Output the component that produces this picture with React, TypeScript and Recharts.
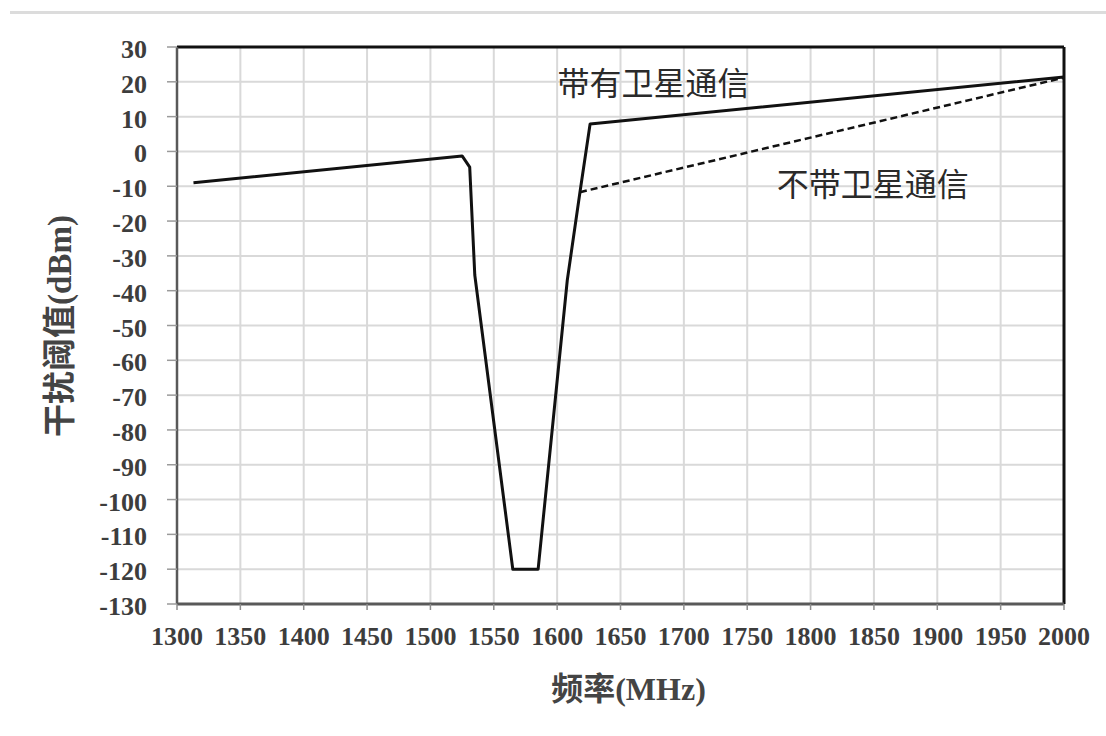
import {
  LineChart,
  Line,
  XAxis,
  YAxis,
  CartesianGrid,
  ReferenceLine,
  ReferenceDot,
  Label,
} from "recharts";

// 带有卫星通信 (solid)
const satFreq = [1313, 1525, 1531, 1535, 1565, 1585, 1608, 1618, 1626, 2000];
const satValue = [-9, -1.3, -4.5, -35.5, -120, -120, -37, -11.7, 7.9, 21.4];

// 不带卫星通信 (dashed)
const noSatFreq = [1618, 2000];
const noSatValue = [-11.7, 21.2];

const xTicks = [1300, 1350, 1400, 1450, 1500, 1550, 1600, 1650, 1700, 1750, 1800, 1850, 1900, 1950, 2000];
const yTicks = [30, 20, 10, 0, -10, -20, -30, -40, -50, -60, -70, -80, -90, -100, -110, -120, -130];

const satData = satFreq.map((f, i) => ({ f, v: satValue[i] }));
const noSatData = noSatFreq.map((f, i) => ({ f, v: noSatValue[i] }));

const TICK_FONT = "'Liberation Serif', 'Times New Roman', serif";
const CJK_FONT = "'Noto Sans CJK SC', sans-serif";
const TICK_COLOR = "#3d3d3d";

function XTick({ x, y, payload }: any) {
  return (
    <text
      x={x}
      y={y + 33}
      textAnchor="middle"
      fontFamily={TICK_FONT}
      fontWeight="bold"
      fontSize={26}
      fill={TICK_COLOR}
    >
      {payload.value}
    </text>
  );
}

function YTick({ x, y, payload }: any) {
  return (
    <text
      x={x - 18}
      y={y + 11}
      textAnchor="end"
      fontFamily={TICK_FONT}
      fontWeight="bold"
      fontSize={26}
      fill={TICK_COLOR}
    >
      {payload.value}
    </text>
  );
}

function SeriesLabel({ viewBox, text }: any) {
  if (!viewBox) return null;
  const cx = viewBox.cx ?? viewBox.x;
  const cy = viewBox.cy ?? viewBox.y;
  return (
    <text
      x={cx}
      y={cy}
      textAnchor="middle"
      dominantBaseline="central"
      fontFamily={CJK_FONT}
      fontSize={32}
      fill="#2a2a2a"
    >
      {text}
    </text>
  );
}

function XTitle({ viewBox }: any) {
  const cx = viewBox.x + viewBox.width / 2 + 8;
  return (
    <text x={cx} y={700} textAnchor="middle" fontSize={32} fill="#444" fontWeight="bold">
      <tspan fontFamily={CJK_FONT}>频率</tspan>
      <tspan fontFamily={TICK_FONT}>(MHz)</tspan>
    </text>
  );
}

function YTitle() {
  const cx = 71;
  const cy = 326;
  return (
    <text
      x={cx}
      y={cy}
      transform={`rotate(-90, ${cx}, ${cy})`}
      textAnchor="middle"
      fontSize={33}
      fill="#444"
      fontWeight="bold"
    >
      <tspan fontFamily={CJK_FONT}>干扰阈值</tspan>
      <tspan fontFamily={TICK_FONT}>(dBm)</tspan>
    </text>
  );
}

export default function App() {
  return (
    <div style={{ position: "fixed", left: 0, top: 0, width: 1106, height: 736, background: "#fff" }}>
      <div
        style={{
          position: "absolute",
          left: 10,
          right: 0,
          top: 11,
          height: 3,
          background: "#dcdcdc",
        }}
      />
      <LineChart
        width={1106}
        height={736}
        margin={{ top: 47, right: 42, left: 0, bottom: 92 }}
      >
        <CartesianGrid stroke="#d9d9d9" strokeWidth={2} />
        <XAxis
          type="number"
          dataKey="f"
          domain={[1300, 2000]}
          ticks={xTicks}
          interval={0}
          allowDataOverflow
          height={40}
          tick={<XTick />}
          tickSize={6}
          tickLine={{ stroke: "#8c8c8c", strokeWidth: 1.5 }}
          axisLine={{ stroke: "#595959", strokeWidth: 3 }}
        >
          <Label content={<XTitle />} />
        </XAxis>
        <YAxis
          type="number"
          domain={[-130, 30]}
          ticks={yTicks}
          interval={0}
          allowDataOverflow
          width={177}
          tick={<YTick />}
          tickSize={10}
          tickLine={{ stroke: "#9a9a9a", strokeWidth: 1.5 }}
          axisLine={{ stroke: "#595959", strokeWidth: 2.5 }}
        >
          <Label content={<YTitle />} />
        </YAxis>
        <ReferenceLine y={30} stroke="#111" strokeWidth={3} />
        <ReferenceLine x={2000} stroke="#111" strokeWidth={3} />
        <Line
          data={noSatData}
          dataKey="v"
          stroke="#111"
          strokeWidth={2.5}
          strokeDasharray="7 4"
          dot={false}
          isAnimationActive={false}
        />
        <Line
          data={satData}
          dataKey="v"
          stroke="#111"
          strokeWidth={3}
          dot={false}
          strokeLinejoin="round"
          isAnimationActive={false}
        />
        <ReferenceDot x={1676} y={20.2} r={0} label={<SeriesLabel text="带有卫星通信" />} />
        <ReferenceDot x={1849} y={-8.8} r={0} label={<SeriesLabel text="不带卫星通信" />} />
      </LineChart>
    </div>
  );
}
